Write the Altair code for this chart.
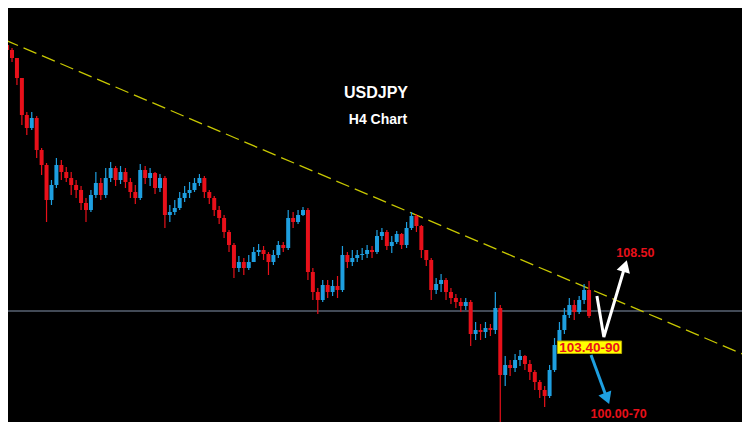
import altair as alt
import pandas as pd

# ---- candle data (USDJPY, H4) ----
first_open = 110.32
close = [110.22, 110.06, 109.66, 108.92, 108.66, 108.86, 108.22, 107.92, 107.22, 107.52,
         107.92, 107.78, 107.66, 107.52, 107.42, 107.16, 107.02, 107.32, 107.56, 107.32,
         107.66, 107.86, 107.62, 107.78, 107.58, 107.38, 107.26, 107.82, 107.66, 107.76,
         107.46, 107.66, 106.92, 106.98, 107.06, 107.26, 107.36, 107.42, 107.56, 107.66,
         107.38, 107.26, 107.02, 106.86, 106.58, 106.32, 105.86, 105.98, 105.86, 105.98,
         106.18, 106.22, 106.14, 105.98, 106.12, 106.32, 106.26, 106.86, 106.78, 106.92,
         107.02, 105.78, 105.38, 105.22, 105.52, 105.38, 105.50, 105.42, 106.12, 105.98,
         106.06, 106.12, 106.14, 106.22, 106.18, 106.50, 106.58, 106.30, 106.38, 106.54,
         106.32, 106.66, 106.90, 106.70, 106.22, 106.02, 105.42, 105.54, 105.62, 105.38,
         105.26, 105.18, 105.10, 105.18, 104.54, 104.62, 104.58, 104.66, 104.62, 105.06,
         103.72, 103.92, 103.86, 104.02, 104.10, 103.94, 103.78, 103.58, 103.42, 103.30,
         103.82, 104.32, 104.62, 104.92, 105.12, 104.98, 105.22, 105.42, 104.90]
high = [110.38, 110.26, 110.06, 109.66, 108.98, 108.98, 108.90, 108.26, 107.96, 107.62,
        108.06, 108.02, 107.88, 107.78, 107.62, 107.50, 107.26, 107.42, 107.78, 107.66,
        107.86, 107.98, 107.90, 107.90, 107.86, 107.66, 107.52, 107.94, 107.90, 107.86,
        107.78, 107.74, 107.70, 107.12, 107.22, 107.38, 107.50, 107.58, 107.66, 107.74,
        107.70, 107.42, 107.30, 107.10, 106.92, 106.62, 106.36, 106.10, 106.06, 106.12,
        106.28, 106.34, 106.30, 106.18, 106.22, 106.40, 106.38, 107.02, 106.98, 107.02,
        107.08, 107.06, 105.86, 105.46, 105.62, 105.62, 105.62, 105.70, 106.30, 106.18,
        106.22, 106.22, 106.26, 106.32, 106.30, 106.62, 106.66, 106.62, 106.50, 106.60,
        106.56, 106.78, 106.98, 106.94, 106.72, 106.22, 106.06, 105.66, 105.74, 105.66,
        105.46, 105.34, 105.26, 105.26, 105.22, 104.78, 104.74, 104.78, 104.74, 105.38,
        105.12, 104.10, 104.02, 104.14, 104.22, 104.12, 104.02, 103.82, 103.62, 103.50,
        103.92, 104.46, 104.78, 105.06, 105.26, 105.22, 105.30, 105.54, 105.60]
low = [110.18, 109.98, 109.52, 108.72, 108.52, 108.62, 108.06, 107.72, 106.78, 107.12,
       107.46, 107.62, 107.58, 107.32, 107.26, 107.02, 106.78, 106.98, 107.26, 107.22,
       107.26, 107.58, 107.50, 107.54, 107.46, 107.26, 107.14, 107.22, 107.54, 107.50,
       107.34, 107.38, 106.66, 106.78, 106.92, 107.02, 107.18, 107.26, 107.38, 107.50,
       107.26, 107.14, 106.90, 106.74, 106.46, 106.18, 105.66, 105.78, 105.72, 105.82,
       105.98, 106.10, 106.02, 105.72, 105.92, 106.06, 106.18, 106.22, 106.66, 106.74,
       106.90, 105.62, 105.22, 104.94, 105.18, 105.26, 105.30, 105.26, 105.38, 105.86,
       105.90, 105.98, 106.02, 106.06, 106.06, 106.14, 106.42, 106.22, 106.16, 106.34,
       106.24, 106.26, 106.62, 106.58, 106.06, 105.90, 105.22, 105.34, 105.38, 105.22,
       105.14, 105.06, 104.98, 105.02, 104.30, 104.42, 104.42, 104.46, 104.50, 104.54,
       102.76, 103.50, 103.70, 103.78, 103.90, 103.82, 103.62, 103.42, 103.26, 103.08,
       103.26, 103.78, 104.26, 104.54, 104.86, 104.82, 104.94, 105.14, 104.86]

# ---- annotation data ----
support_level = 105.00
trend_x = [-0.4, 149.6]
trend_y = [110.42, 104.12]
up_path_x = [119.6, 121.0, 125.3]
up_path_y = [105.30, 104.48, 105.90]
up_head = (125.3, 105.90, 17)
down_path_x = [118.4, 121.64]
down_path_y = [104.12, 103.25]
down_head = (121.64, 103.25, 159)
box_x = [111.6, 124.6]
box_y = [104.15, 104.40]
labels = ["108.50", "103.40-90", "100.00-70"]
labels_x = [127.4, 118.1, 124.0]
labels_y = [106.17, 104.27, 102.94]
labels_size = [12.5, 13.5, 12.5]
title_text = ["USDJPY", "H4 Chart"]
title_x = [74.8, 75.2]
title_y = [109.36, 108.82]
title_size = [16, 14]

RED = "#e8101a"
BLUE = "#1e9fe0"
FONT = "Liberation Sans"

opens = [first_open] + close[:-1]
df = pd.DataFrame({"i": list(range(len(close))), "open": opens, "close": close,
                   "high": high, "low": low})

xs = alt.Scale(domain=[1.2, 148.0], nice=False, zero=False)
ys = alt.Scale(domain=[102.78, 111.06], nice=False, zero=False)
X = lambda f: alt.X(f, type="quantitative", scale=xs, axis=None)
Y = lambda f: alt.Y(f, type="quantitative", scale=ys, axis=None)
col = alt.condition("datum.close >= datum.open", alt.value(BLUE), alt.value(RED))

base = alt.Chart(df)
wicks = base.mark_rule(strokeWidth=1.2, clip=True).encode(x=X("i"), y=Y("low"), y2="high", color=col)
bodies = base.mark_bar(size=4, clip=True).encode(x=X("i"), y=Y("open"), y2="close", color=col)

hline = alt.Chart(pd.DataFrame({"v": [support_level]})).mark_rule(
    color="#8494ac", strokeWidth=1).encode(y=Y("v"))

trend = alt.Chart(pd.DataFrame({"x": trend_x, "y": trend_y})).mark_line(
    color="#c8c800", strokeWidth=1.3, strokeDash=[14, 6], clip=True).encode(x=X("x"), y=Y("y"))

up_line = alt.Chart(pd.DataFrame({"x": up_path_x, "y": up_path_y, "o": [0, 1, 2]})).mark_line(
    color="white", strokeWidth=3).encode(x=X("x"), y=Y("y"), order="o:Q")
up_arrow = alt.Chart(pd.DataFrame({"x": [up_head[0]], "y": [up_head[1]]})).mark_point(
    shape="triangle-up", filled=True, opacity=1, size=190, color="white", angle=up_head[2]
).encode(x=X("x"), y=Y("y"))

down_line = alt.Chart(pd.DataFrame({"x": down_path_x, "y": down_path_y, "o": [0, 1]})).mark_line(
    color=BLUE, strokeWidth=3).encode(x=X("x"), y=Y("y"), order="o:Q")
down_arrow = alt.Chart(pd.DataFrame({"x": [down_head[0]], "y": [down_head[1]]})).mark_point(
    shape="triangle-up", filled=True, opacity=1, size=190, color=BLUE, angle=down_head[2]
).encode(x=X("x"), y=Y("y"))

box = alt.Chart(pd.DataFrame({"x": [box_x[0]], "x2": [box_x[1]], "y": [box_y[0]], "y2": [box_y[1]]})).mark_rect(
    color="#ffff00", stroke="#b8a800", strokeWidth=1).encode(x=X("x"), x2="x2", y=Y("y"), y2="y2")

lab_layers = []
for t, x, y, s in zip(labels, labels_x, labels_y, labels_size):
    lab_layers.append(
        alt.Chart(pd.DataFrame({"t": [t], "x": [x], "y": [y]})).mark_text(
            font=FONT, fontWeight="bold", fontSize=s, color=RED,
            align="center", baseline="middle").encode(x=X("x"), y=Y("y"), text="t:N"))

title_layers = []
for t, x, y, s in zip(title_text, title_x, title_y, title_size):
    title_layers.append(
        alt.Chart(pd.DataFrame({"t": [t], "x": [x], "y": [y]})).mark_text(
            font=FONT, fontWeight="bold", fontSize=s, color="white",
            align="center", baseline="middle").encode(x=X("x"), y=Y("y"), text="t:N"))

chart = alt.layer(
    hline, trend, wicks, bodies, up_line, up_arrow, down_line, down_arrow, box,
    *lab_layers, *title_layers
).properties(
    width=734, height=414, background="black", padding=0,
    autosize=alt.AutoSizeParams(type="none")
).configure_view(stroke=None, fill="black")

chart.save("out.html", embed_options={"renderer": "svg", "actions": False})
